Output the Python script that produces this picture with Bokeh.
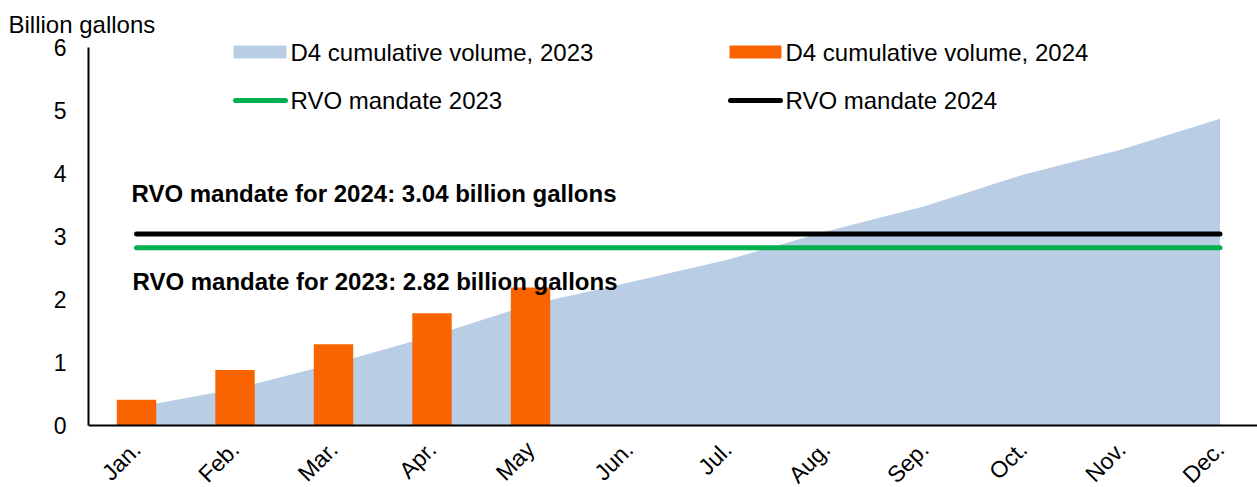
import math
from bokeh.plotting import figure
from bokeh.models import Range1d, FixedTicker, Label
from bokeh.embed import file_html
from bokeh.resources import INLINE

# ---- data ----
months = ["Jan.", "Feb.", "Mar.", "Apr.", "May", "Jun.", "Jul.", "Aug.", "Sep.", "Oct.", "Nov.", "Dec."]
vol_2023 = [0.29, 0.58, 0.98, 1.42, 1.92, 2.27, 2.63, 3.08, 3.48, 3.98, 4.38, 4.87]
vol_2024 = [0.41, 0.88, 1.29, 1.78, 2.19]
rvo_2023 = 2.82
rvo_2024 = 3.04
y_ticks = [0, 1, 2, 3, 4, 5, 6]

series_names = ["D4 cumulative volume, 2023", "D4 cumulative volume, 2024",
                "RVO mandate 2023", "RVO mandate 2024"]
note_2024 = "RVO mandate for 2024: 3.04 billion gallons"
note_2023 = "RVO mandate for 2023: 2.82 billion gallons"
y_title = "Billion gallons"

# ---- styles ----
BLUE = "#B9CDE5"
ORANGE = "#F96400"
GREEN = "#00B050"
BLACK = "#000000"
FONT = "Liberation Sans"

W, H = 1257, 487
LEFT, TOP, ZERO_PX = 88, 38, 425
PX_PER_MONTH = 98.5
JAN_PX = 136
PX_PER_UNIT = 63.0

x_start = -(JAN_PX - LEFT) / PX_PER_MONTH
x_end = (W - JAN_PX) / PX_PER_MONTH
y_end = (ZERO_PX - TOP) / PX_PER_UNIT
y_start = -(H - ZERO_PX) / PX_PER_UNIT


def px2x(px):
    return x_start + (px - LEFT) / PX_PER_MONTH


def py2y(py):
    return (ZERO_PX - py) / PX_PER_UNIT


p = figure(width=W, height=H, x_range=Range1d(x_start, x_end), y_range=Range1d(y_start, y_end),
           output_backend="svg", toolbar_location=None,
           min_border_left=LEFT, min_border_right=0, min_border_top=TOP,
           min_border_bottom=0)
p.outline_line_color = None
p.xgrid.visible = False
p.ygrid.visible = False
p.background_fill_color = "white"
p.border_fill_color = "white"

# y title as plot title, shifted to the left edge
p.title.text = y_title
p.title.text_font = FONT
p.title.text_font_size = "24px"
p.title.text_font_style = "normal"
p.title.text_color = BLACK
p.title.align = "left"
p.title.offset = -80
p.title.standoff = 2

idx = list(range(len(months)))
p.varea(x=idx, y1=[0] * len(idx), y2=vol_2023, fill_color=BLUE)
p.vbar(x=idx[:len(vol_2024)], top=vol_2024, width=0.4, fill_color=ORANGE, line_color=None)
p.line(x=[idx[0], idx[-1]], y=[rvo_2023, rvo_2023], line_color=GREEN, line_width=5, line_cap="round")
p.line(x=[idx[0], idx[-1]], y=[rvo_2024, rvo_2024], line_color=BLACK, line_width=5, line_cap="round")

# axes
ya = p.yaxis[0]
ya.ticker = FixedTicker(ticks=y_ticks)
ya.bounds = (0, 6)
ya.axis_line_width = 2
ya.axis_line_color = BLACK
ya.major_tick_line_color = None
ya.minor_tick_line_color = None
ya.major_tick_out = 0
ya.major_tick_in = 0
ya.minor_tick_out = 0
ya.minor_tick_in = 0
ya.major_label_standoff = 22
ya.major_label_text_font = FONT
ya.major_label_text_font_size = "23px"
ya.major_label_text_color = BLACK

xa = p.xaxis[0]
xa.fixed_location = 0
xa.ticker = FixedTicker(ticks=idx)
xa.major_label_overrides = {i: m for i, m in enumerate(months)}
xa.major_label_orientation = math.pi / 4
xa.axis_line_width = 2
xa.axis_line_color = BLACK
xa.major_tick_line_color = None
xa.minor_tick_line_color = None
xa.major_tick_out = 0
xa.major_tick_in = 0
xa.minor_tick_out = 0
xa.minor_tick_in = 0
xa.major_label_standoff = 20
xa.major_label_text_font = FONT
xa.major_label_text_font_size = "23px"
xa.major_label_text_color = BLACK

# annotations
p.add_layout(Label(x=px2x(131), y=py2y(193), text=note_2024, text_font=FONT, text_font_size="24px",
                   text_font_style="bold", text_baseline="middle", text_align="left", text_color=BLACK))
p.add_layout(Label(x=px2x(132), y=py2y(281), text=note_2023, text_font=FONT, text_font_size="24px",
                   text_font_style="bold", text_baseline="middle", text_align="left", text_color=BLACK))

# legend (manual)
p.quad(left=[px2x(233)], right=[px2x(286)], top=[py2y(45)], bottom=[py2y(58)],
       fill_color=BLUE, line_color=None)
p.quad(left=[px2x(729)], right=[px2x(781)], top=[py2y(45)], bottom=[py2y(58)],
       fill_color=ORANGE, line_color=None)
p.line(x=[px2x(235), px2x(285)], y=[py2y(100), py2y(100)], line_color=GREEN, line_width=5, line_cap="round")
p.line(x=[px2x(730), px2x(780)], y=[py2y(100), py2y(100)], line_color=BLACK, line_width=5, line_cap="round")
for (tx, ty), name in zip([(290, 52), (785, 52), (290, 100), (785, 100)], series_names):
    p.add_layout(Label(x=px2x(tx), y=py2y(ty), text=name, text_font=FONT, text_font_size="24px",
                       text_baseline="middle", text_align="left", text_color=BLACK))

open("out.html", "w").write(file_html(p, INLINE))
